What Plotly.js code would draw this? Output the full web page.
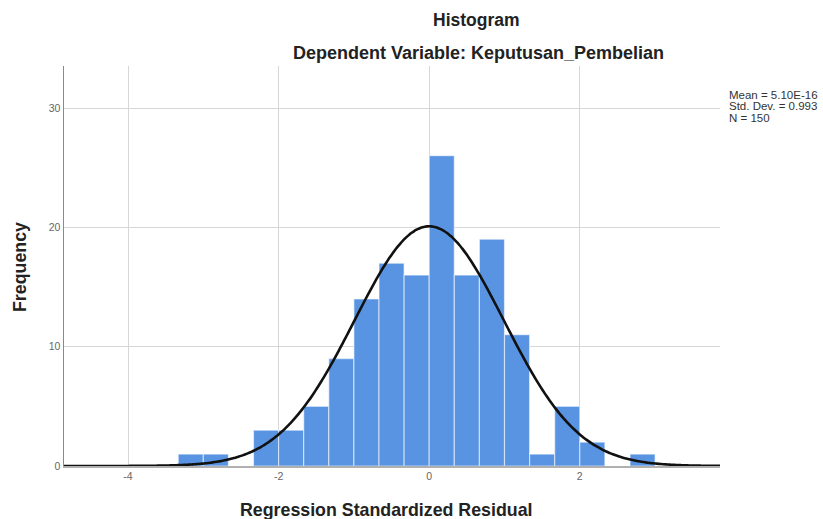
<!DOCTYPE html>
<html>
<head>
<meta charset="utf-8">
<script src="https://cdn.plot.ly/plotly-3.0.1.min.js"></script>
<style>
html,body{margin:0;padding:0;background:#fff;}
#chart{width:823px;height:519px;}
</style>
</head>
<body>
<div id="chart"></div>
<script>
// Histogram bins (left edge index k: bin = [k/3, (k+1)/3])
const binIndex = [-10,-9,-8,-7,-6,-5,-4,-3,-2,-1,0,1,2,3,4,5,6,7,8];
const frequency = [1,1,0,3,3,5,9,14,17,16,26,16,19,11,1,5,2,0,1];
const binWidth = 1/3;
// Statistics shown in the chart
const statMean = 5.10e-16;
const statSD = 0.993;
const statN = 150;
const statLabels = ["Mean = 5.10E-16", "Std. Dev. = 0.993", "N = 150"];
const xTickVals = [-4,-2,0,2];
const yTickVals = [0,10,20,30];

const binCenters = binIndex.map(k => (k + 0.5) * binWidth);

const xMin = -4.85, xMax = 3.862;
// Fitted normal curve from the displayed Mean, Std. Dev., N
const curveX = [], curveY = [];
const steps = 300;
for (let i = 0; i <= steps; i++) {
  const x = xMin + (xMax - xMin) * i / steps;
  const z = (x - statMean) / statSD;
  curveX.push(x);
  curveY.push(statN * binWidth / (statSD * Math.sqrt(2 * Math.PI)) * Math.exp(-0.5 * z * z));
}

const font = "Liberation Sans, Arial, sans-serif";

const traces = [
  {
    type: 'bar',
    x: binCenters,
    y: frequency,
    width: binWidth,
    marker: {color: '#5894e2', line: {color: 'rgba(255,255,255,0.55)', width: 1.2}},
    hoverinfo: 'x+y',
    showlegend: false
  },
  {
    type: 'scatter',
    mode: 'lines',
    x: curveX,
    y: curveY,
    line: {color: '#111111', width: 2.6, shape: 'spline'},
    hoverinfo: 'skip',
    showlegend: false
  }
];

const px = v => (v - 64) / 656;
const py = v => (466 - v) / 400;

const annotations = [
  {text: '<b>Histogram</b>', x: px(477), y: py(20), xref: 'paper', yref: 'paper', xanchor: 'center', yanchor: 'middle', showarrow: false, font: {family: font, size: 17.5, color: '#222'}},
  {text: '<b>Dependent Variable: Keputusan_Pembelian</b>', x: px(478), y: py(53), xref: 'paper', yref: 'paper', xanchor: 'center', yanchor: 'middle', showarrow: false, font: {family: font, size: 18, color: '#222'}},
  {text: '<b>Regression Standardized Residual</b>', x: px(386), y: py(510), xref: 'paper', yref: 'paper', xanchor: 'center', yanchor: 'middle', showarrow: false, font: {family: font, size: 17.8, color: '#222'}},
  {text: '<b>Frequency</b>', x: px(20), y: py(267), xref: 'paper', yref: 'paper', xanchor: 'center', yanchor: 'middle', textangle: -90, showarrow: false, font: {family: font, size: 17.8, color: '#222'}}
];
const statY = [95, 106.5, 118];
statLabels.forEach((t, i) => {
  annotations.push({text: t, x: px(727), y: py(statY[i]), xref: 'paper', yref: 'paper', xanchor: 'left', yanchor: 'middle', showarrow: false, font: {family: font, size: 11.5, color: '#333'}});
});

const layout = {
  width: 823, height: 519,
  margin: {l: 64, r: 103, t: 66, b: 53, pad: 0},
  paper_bgcolor: '#ffffff',
  plot_bgcolor: '#ffffff',
  bargap: 0,
  font: {family: font, size: 11, color: '#555'},
  xaxis: {
    range: [xMin, xMax],
    tickvals: xTickVals,
    ticktext: xTickVals.map(String),
    showgrid: true, gridcolor: '#d6d6d6', gridwidth: 1,
    zeroline: false,
    showline: true, linecolor: '#b0b0b0', linewidth: 1.5,
    ticks: '', ticklen: 0,
    tickfont: {family: font, size: 10.5, color: '#666'},
    fixedrange: true
  },
  yaxis: {
    range: [0, 33.52],
    tickvals: yTickVals,
    ticktext: yTickVals.map(String),
    showgrid: true, gridcolor: '#d6d6d6', gridwidth: 1,
    zeroline: false,
    showline: true, linecolor: '#8a8a8a', linewidth: 1.5,
    ticks: '', ticklen: 0,
    tickfont: {family: font, size: 10.5, color: '#666'},
    fixedrange: true
  },
  annotations: annotations
};

Plotly.newPlot('chart', traces, layout, {displayModeBar: false, staticPlot: true});
</script>
</body>
</html>
